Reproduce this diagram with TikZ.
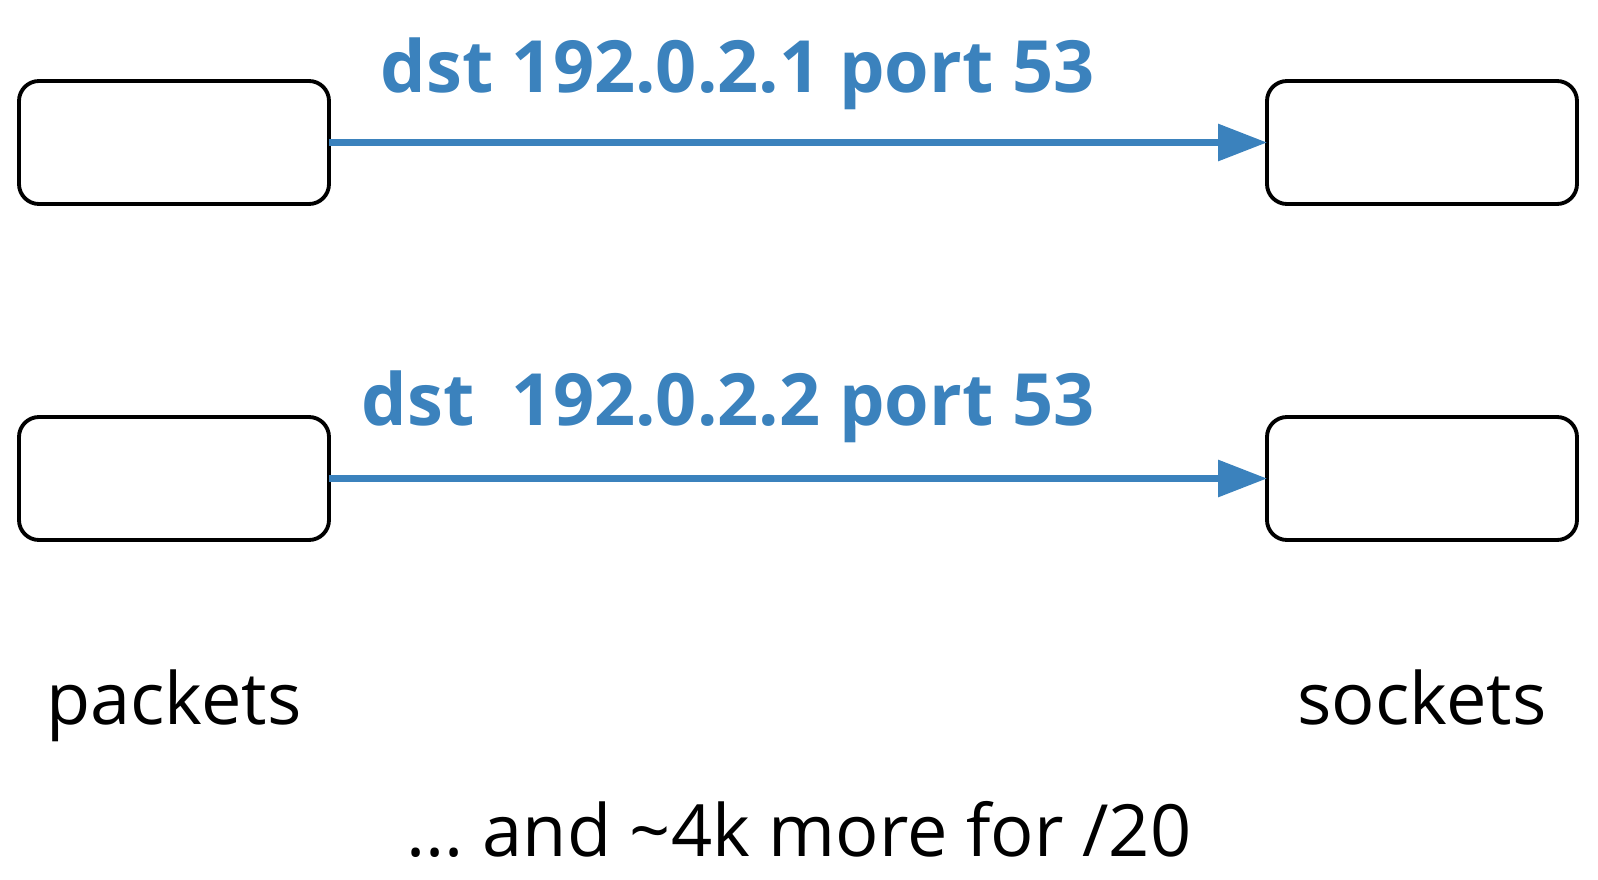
\documentclass[tikz,border=0pt]{standalone}
\usepackage{fontspec}
\setmainfont{Open Sans}
\usetikzlibrary{arrows.meta}
\definecolor{flowblue}{RGB}{59,130,189}
\frenchspacing

\begin{document}
\begin{tikzpicture}
  [box/.style={rectangle,draw=black,line width=1.1pt,rounded corners=2mm,
               minimum width=3.1cm,minimum height=1.23cm,outer sep=0},
   flow/.style={draw=flowblue,line width=1.8pt,
                -{Triangle[length=4.9mm,width=3.6mm]}},
   addr/.style={text=flowblue,font=\fontsize{20.5}{24}\selectfont\bfseries,
                inner sep=0},
   caption/.style={font=\fontsize{20.5}{24}\selectfont,inner sep=0}]
  \useasboundingbox (0,0) rectangle (15.98,-8.80);
  \node[box] (pkt1) at (1.74,-1.425) {};
  \node[box] (sock1) at (14.22,-1.425) {};
  \node[box] (pkt2) at (1.74,-4.785) {};
  \node[box] (sock2) at (14.22,-4.785) {};
  \draw[flow] (pkt1) to (sock1);
  \draw[flow] (pkt2) to (sock2);
  \node[addr,anchor=base east] (dst1) at (10.95,-0.92) {dst 192.0.2.1 port 53};
  \node[addr,anchor=base east] (dst2) at (10.95,-4.25) {dst\ \ 192.0.2.2 port 53};
  \node[caption,anchor=base] (packets) at (1.74,-7.24) {packets};
  \node[caption,anchor=base] (sockets) at (14.22,-7.24) {sockets};
  \node[caption,anchor=base] (more) at (7.99,-8.56) {... and \textasciitilde4k more for /20};
\end{tikzpicture}
\end{document}
